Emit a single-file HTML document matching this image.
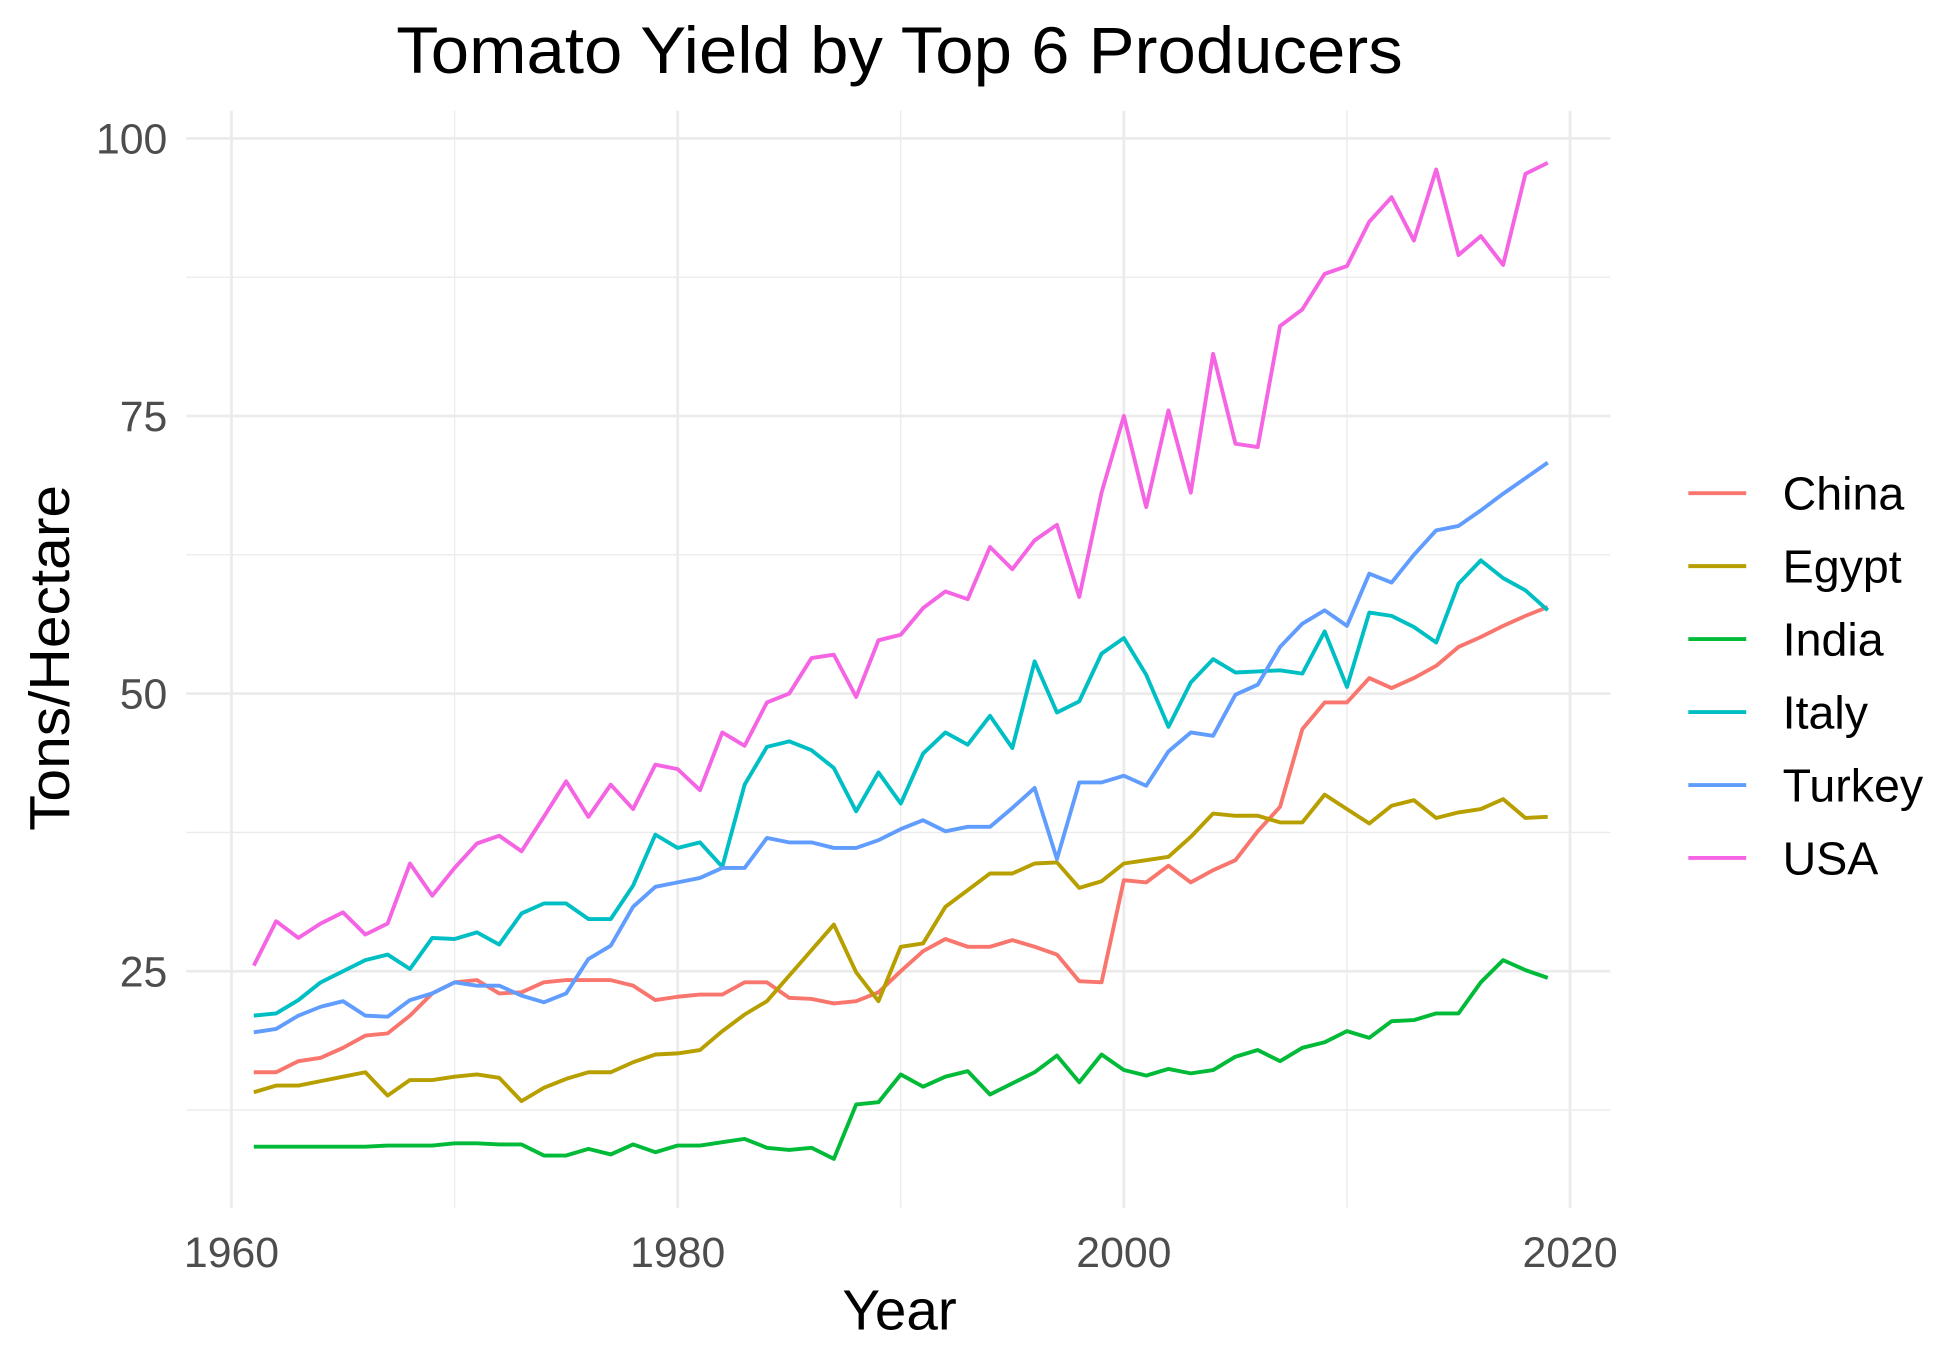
<!DOCTYPE html>
<html><head><meta charset="utf-8">
<style>
html,body{margin:0;padding:0;background:#fff;}
svg{display:block;font-family:"Liberation Sans",Arial,sans-serif;}
</style></head>
<body>
<svg id="chart" width="1950" height="1349" viewBox="0 0 1550 1072.3" preserveAspectRatio="none" xmlns="http://www.w3.org/2000/svg">
<text x="715" y="58" font-size="52" text-anchor="middle" fill="#000" textLength="800" lengthAdjust="spacingAndGlyphs">Tomato Yield by Top 6 Producers</text>
<g id="grid"></g>
<g id="series"></g>
<g id="axes"></g>
<text x="715" y="1057" font-size="45" text-anchor="middle" fill="#000">Year</text>
<text transform="translate(55,523) rotate(-90)" font-size="45" text-anchor="middle" fill="#000" textLength="275" lengthAdjust="spacingAndGlyphs">Tons/Hectare</text>
<g id="legend"></g>
</svg>
<script>
const years = [];
for (let y = 1961; y <= 2019; y++) years.push(y);
const countries = ["China","Egypt","India","Italy","Turkey","USA"];
const colors = ["#F8766D","#B79F00","#00BA38","#00BFC4","#619CFF","#F564E3"];
const china = [15.9,15.9,16.9,17.2,18.1,19.2,19.4,21,23,24,24.2,23,23.1,24,24.2,24.2,24.2,23.7,22.4,22.7,22.9,22.9,24,24,22.6,22.5,22.1,22.3,23.1,25,26.8,27.9,27.2,27.2,27.8,27.2,26.5,24.1,24,33.2,33,34.5,33,34.1,35,37.6,39.8,46.8,49.2,49.2,51.4,50.5,51.4,52.5,54.2,55.1,56.1,57,57.8];
const egypt = [14.1,14.7,14.7,15.1,15.5,15.9,13.8,15.2,15.2,15.5,15.7,15.4,13.3,14.5,15.3,15.9,15.9,16.8,17.5,17.6,17.9,19.6,21.1,22.3,24.6,26.9,29.2,24.9,22.3,27.2,27.5,30.8,32.3,33.8,33.8,34.7,34.8,32.5,33.1,34.7,35,35.3,37.1,39.2,39,39,38.4,38.4,40.9,39.6,38.3,39.9,40.4,38.8,39.3,39.6,40.5,38.8,38.9];
const india = [9.2,9.2,9.2,9.2,9.2,9.2,9.3,9.3,9.3,9.5,9.5,9.4,9.4,8.4,8.4,9,8.5,9.4,8.7,9.3,9.3,9.6,9.9,9.1,8.9,9.1,8.1,13,13.2,15.7,14.6,15.5,16,13.9,14.9,15.9,17.4,15,17.5,16.1,15.6,16.2,15.8,16.1,17.3,17.9,16.9,18.1,18.6,19.6,19,20.5,20.6,21.2,21.2,24,26,25.1,24.4];
const italy = [21,21.2,22.4,24,25,26,26.5,25.2,28,27.9,28.5,27.4,30.2,31.1,31.1,29.7,29.7,32.7,37.3,36.1,36.6,34.4,41.8,45.2,45.7,44.9,43.3,39.4,42.9,40.1,44.6,46.5,45.4,48,45.1,52.9,48.3,49.3,53.6,55,51.7,47,51,53.1,51.9,52,52.1,51.8,55.6,50.6,57.3,57,56,54.6,59.9,62,60.4,59.3,57.5];
const turkey = [19.5,19.8,21,21.8,22.3,21,20.9,22.4,23,24,23.7,23.7,22.8,22.2,23,26.1,27.3,30.8,32.6,33,33.4,34.3,34.3,37,36.6,36.6,36.1,36.1,36.8,37.8,38.6,37.6,38,38,39.7,41.5,35.1,42,42,42.6,41.7,44.8,46.5,46.2,49.9,50.8,54.2,56.3,57.5,56.1,60.8,60,62.5,64.7,65.1,66.5,68,69.4,70.8];
const usa = [25.5,29.5,28,29.3,30.3,28.3,29.3,34.7,31.8,34.3,36.5,37.2,35.8,38.9,42.1,38.9,41.8,39.6,43.6,43.2,41.3,46.5,45.3,49.2,50,53.2,53.5,49.7,54.8,55.3,57.7,59.2,58.5,63.2,61.2,63.8,65.2,58.7,68.1,75,66.8,75.5,68.1,80.6,72.5,72.2,83.1,84.6,87.8,88.5,92.5,94.7,90.8,97.2,89.5,91.2,88.6,96.8,97.8];
const xTicks = [1960,1980,2000,2020];
const xMinor = [1970,1990,2010];
const yTicks = [25,50,75,100];
const yMinor = [12.5,37.5,62.5,87.5];

const NS = "http://www.w3.org/2000/svg";
const X0 = 148, X1 = 1280, Y0 = 88, Y1 = 960;
function xs(v){ return 184 + (v - 1960) * (1248 - 184) / 60; }
function ys(v){ return 772 - (v - 25) * (772 - 110) / 75; }
function mk(tag, attrs, parent){ const e = document.createElementNS(NS, tag); for (const k in attrs) e.setAttribute(k, attrs[k]); parent.appendChild(e); return e; }

const grid = document.getElementById('grid');
yMinor.forEach(v => { const l = mk('line',{x1:X0,x2:X1,y1:ys(v),y2:ys(v),stroke:'#ebebeb','stroke-width':1.1},grid);
  
   });
xMinor.forEach(v => { const l = mk('line',{x1:xs(v),x2:xs(v),y1:Y0,y2:Y1,stroke:'#ebebeb','stroke-width':1.1},grid);
  
   });
yTicks.forEach(v => { const l = mk('line',{x1:X0,x2:X1,y1:ys(v),y2:ys(v),stroke:'#ebebeb','stroke-width':2.2},grid);
  
   });
xTicks.forEach(v => { const l = mk('line',{x1:xs(v),x2:xs(v),y1:Y0,y2:Y1,stroke:'#ebebeb','stroke-width':2.2},grid);
  
   });

const axes = document.getElementById('axes');
yTicks.forEach(v => { const t = mk('text',{x:133,y:ys(v)+12,'font-size':34,'text-anchor':'end',fill:'#4d4d4d'},axes); t.textContent = v;
  
   });
xTicks.forEach(v => { const t = mk('text',{x:xs(v),y:1007,'font-size':34,'text-anchor':'middle',fill:'#4d4d4d'},axes); t.textContent = v;
  
   });

const seriesData = [china, egypt, india, italy, turkey, usa];
const sg = document.getElementById('series');
seriesData.forEach((arr, i) => {
  const d = arr.map((v, j) => (j ? 'L' : 'M') + xs(years[j]).toFixed(2) + ',' + ys(v).toFixed(2)).join(' ');
  const p = mk('path',{d:d,fill:'none',stroke:colors[i],'stroke-width':3.1,'stroke-linejoin':'round'},sg);
  
  
});

const lg = document.getElementById('legend');
countries.forEach((c, i) => {
  const y = 392 + i * 58;
  const g = mk('g',{},lg);
  
  
  mk('line',{x1:1342,x2:1388,y1:y,y2:y,stroke:colors[i],'stroke-width':3.1},g);
  const t = mk('text',{x:1417,y:y+13,'font-size':37,fill:'#000'},g); t.textContent = c;
});
</script>
</body></html>
